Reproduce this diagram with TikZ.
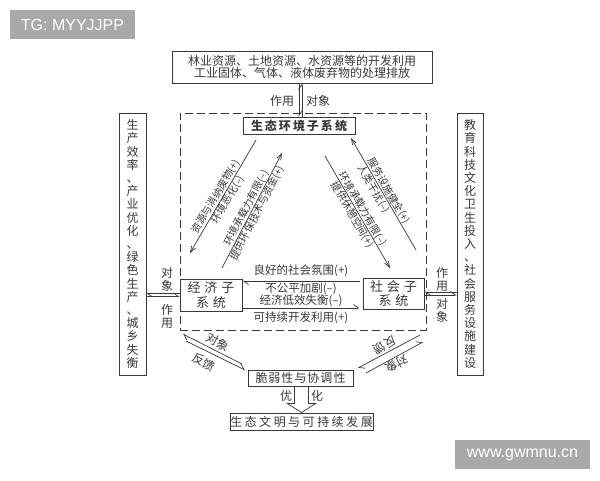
\documentclass[tikz,border=0pt]{standalone}
\usepackage{fontspec}
\setmainfont{Noto Sans CJK SC}
\newfontfamily\wmfont{Liberation Sans}
\usetikzlibrary{arrows.meta,calc}
\definecolor{ink}{HTML}{383838}
\definecolor{wmgray}{HTML}{A9A9A9}
\newcommand\kk{\kern2pt}
\newcommand\kw{\kern4pt}
\newcommand\kn{\kern1pt}
\newcommand\kf{\kern2.5pt}
\tikzset{
  box/.style={draw=ink, line width=0.9pt, fill=white, inner sep=0pt, align=center, text=ink},
  lab/.style={text=ink, inner sep=0pt, align=center, font=\fontsize{11.5}{12}\selectfont},
  vlab/.style={text=ink, inner sep=0pt, align=center, font=\fontsize{12}{13}\selectfont},
  dlab/.style={text=ink, inner sep=0.4pt, font=\fontsize{10.2}{11}\selectfont},
  hp/.style={draw=ink, line width=0.7pt, -{Straight Barb[harpoon,length=5pt,width=7pt]}},
  darr/.style={draw=ink, line width=0.7pt, -{Straight Barb[length=6pt,width=4.5pt]}},
  wmbox/.style={fill=wmgray, text=white, inner sep=0pt, font=\wmfont\fontsize{16}{18}\selectfont},
  frame/.style={draw=ink, line width=0.8pt, dash pattern=on 8pt off 4pt},
}
\begin{document}
\begin{tikzpicture}[x=1pt,y=-1pt]
\useasboundingbox[fill=white] (0,0) rectangle (600,480);
% watermarks
\node[wmbox, minimum width=125pt, minimum height=29pt] (wm1) at (72.5,24.5) {TG: MYYJJPP};
\node[wmbox, minimum width=135pt, minimum height=29pt] (wm2) at (522.5,454.5) {www.gwmnu.cn};
% dashed frame
\node[frame, minimum width=246pt, minimum height=217pt, inner sep=0pt] (frm) at (303,221.5) {};
% boxes
\node[box, minimum width=260pt, minimum height=32pt, font=\fontsize{12}{12.5}\selectfont] (top) at (302,67)
  {林业资源、土地资源、水资源等的开发利用\\工业固体、气体、液体废弃物的处理排放};
\node[box, minimum width=112pt, minimum height=17pt, font=\bfseries\fontsize{12}{13}\selectfont] (eco) at (299,125.5)
  {生\kk 态\kk 环\kk 境\kk 子\kk 系\kk 统};
\node[box, minimum width=27pt, minimum height=262pt, font=\fontsize{12}{13.2}\selectfont] (lbox) at (132.5,244)
  {生\\产\\效\\率\\、\\产\\业\\优\\化\\、\\绿\\色\\生\\产\\、\\城\\乡\\失\\衡};
\node[box, minimum width=26pt, minimum height=262pt, font=\fontsize{12}{13.2}\selectfont] (rbox) at (470,244)
  {教\\育\\科\\技\\文\\化\\卫\\生\\投\\入\\、\\社\\会\\服\\务\\设\\施\\建\\设};
\node[box, minimum width=62pt, minimum height=32pt, font=\fontsize{13}{14.5}\selectfont] (econ) at (211,295)
  {经\kw 济\kw 子\\系\kw 统};
\node[box, minimum width=61pt, minimum height=31pt, font=\fontsize{13}{14.5}\selectfont] (soc) at (393.5,293.5)
  {社\kw 会\kw 子\\系\kw 统};
\node[box, minimum width=105pt, minimum height=16pt, font=\fontsize{12}{13}\selectfont] (frag) at (300.5,378)
  {脆\kn 弱\kn 性\kn 与\kn 协\kn 调\kn 性};
\node[box, minimum width=143pt, minimum height=17pt, font=\fontsize{12}{13}\selectfont] (fin) at (301.5,421.5)
  {生\kf 态\kf 文\kf 明\kf 与\kf 可\kf 持\kf 续\kf 发\kf 展};
% top connectors
\draw[hp] (eco.north |- top.south) -- (eco.north);
\draw[hp] ($(eco.north)+(3,0)$) -- ($(eco.north |- top.south)+(3,0)$);
\node[vlab] (t1) at (282,101) {作用};
\node[vlab] (t2) at (318,101) {对象};
% left connectors
\draw[hp] ($(econ.west)+(0,-1.5)$) -- ($(econ.west -| lbox.east)+(0,-1.5)$);
\draw[hp] ($(econ.west -| lbox.east)+(0,1.5)$) -- ($(econ.west)+(0,1.5)$);
\node[vlab] (la) at (167,279) {对\\象};
\node[vlab] (lb) at (167,316) {作\\用};
% right connectors
\draw[hp] ($(soc.east -| rbox.west)+(0,-1.5)$) -- ($(soc.east)+(0,-1.5)$);
\draw[hp] ($(soc.east)+(0,1.5)$) -- ($(soc.east -| rbox.west)+(0,1.5)$);
\node[vlab] (ra) at (442,279) {作\\用};
\node[vlab] (rb) at (442,310) {对\\象};
% middle connectors
\draw[hp] ($(soc.west)+(-3,-12.5)$) --
  node[lab, above=3.5pt] {良好的社会氛围(+)}
  node[lab, below=1.5pt] {不公平加剧(–)}
  ($(soc.west -| econ.east)+(0,-12.5)$);
\draw[hp] ($(econ.east)+(0,13)$) --
  node[lab, above=1pt] {经济低效失衡(–)}
  node[lab, below=3.5pt] {可持续开发利用(+)}
  ($(econ.east -| soc.west)+(-3,13)$);
% diagonal connectors
\coordinate (l1s) at (256,140); \coordinate (l1e) at (190,253);
\coordinate (l2s) at (222,268); \coordinate (l2e) at (282,153);
\coordinate (r1s) at (416,250); \coordinate (r1e) at (351,138);
\coordinate (r2s) at (325,156); \coordinate (r2e) at (390,268);
\draw[darr] (l1s) -- node[dlab, sloped, above, pos=0.53] {资源与消纳废物(+)}
  node[dlab, sloped, below] {环境恶化(–)} (l1e);
\draw[darr] (l2s) -- node[dlab, sloped, above] {环境承载力有限(–)}
  node[dlab, sloped, below] {提供环保技术与资金(+)} (l2e);
\draw[darr] (r1s) -- node[dlab, sloped, above] {服务设施健全(+)}
  node[dlab, sloped, below, pos=0.57] {人类干扰(–)} (r1e);
\draw[darr] (r2s) -- node[dlab, sloped, above] {环境承载力有限(–)}
  node[dlab, sloped, below] {提供休憩空间(+)} (r2e);
% lower connectors
\coordinate (ul1s) at (242,364); \coordinate (ul1e) at (183,334);
\coordinate (ul2s) at (186,341); \coordinate (ul2e) at (245,370);
\coordinate (ur1s) at (420,335); \coordinate (ur1e) at (358,368);
\coordinate (ur2s) at (366,373); \coordinate (ur2e) at (423,342);
\draw[hp] (ul1s) -- (ul1e);
\draw[hp] (ul2s) -- (ul2e);
\draw[hp] (ur1s) -- (ur1e);
\draw[hp] (ur2s) -- (ur2e);
\node[vlab, rotate=-27] (ula) at (218,342) {对象};
\node[vlab, rotate=-27] (ulb) at (204,362) {反馈};
\node[vlab, rotate=208] (ura) at (385,345) {反馈};
\node[vlab, rotate=208] (urb) at (397,364) {对象};
% block arrow
\draw[ink, line width=0.7pt, fill=white]
  (fin.north) -- ($(fin.north)+(-14,-9)$) -- ($(fin.north)+(-7,-9)$)
  -- ($(fin.north |- frag.south)+(-7,0)$) -- ($(fin.north |- frag.south)+(7,0)$)
  -- ($(fin.north)+(7,-9)$) -- ($(fin.north)+(14,-9)$) -- cycle;
\node[vlab] (o1) at (286,396) {优};
\node[vlab] (o2) at (317,396) {化};
\end{tikzpicture}
\end{document}
